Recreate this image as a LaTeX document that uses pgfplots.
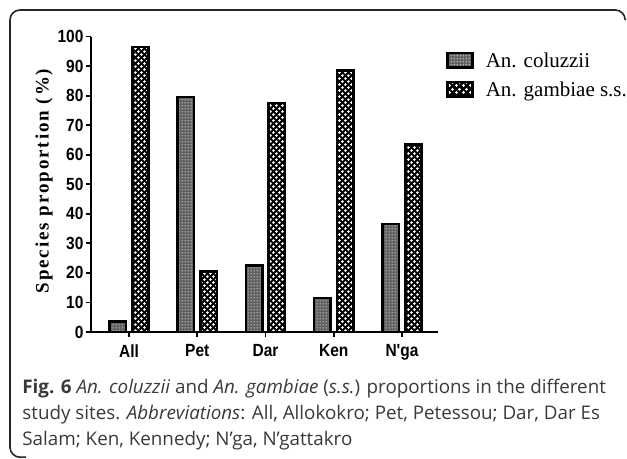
\documentclass[border=0pt]{standalone}
\usepackage{fontspec}
\usepackage{pgfplots}
\pgfplotsset{compat=1.18}
\usetikzlibrary{patterns.meta}
\setmainfont{Open Sans}
\newfontfamily\tickfont[FakeStretch=0.88]{Liberation Sans}
\newfontfamily\labfont[LetterSpace=10]{Liberation Serif}
\newfontfamily\legfont{Liberation Serif}
\definecolor{captxt}{HTML}{3A3A3A}

\pgfdeclarepattern{
  name=checker, type=uncolored,
  bottom left={\pgfpoint{0pt}{0pt}},
  top right={\pgfpoint{3.2pt}{3.2pt}},
  tile size={\pgfpoint{3.2pt}{3.2pt}},
  code={
    \pgfpathcircle{\pgfpoint{0.8pt}{0.8pt}}{0.8pt}
    \pgfpathcircle{\pgfpoint{2.4pt}{2.4pt}}{0.8pt}
    \pgfusepath{fill}
  }
}
\pgfdeclarepattern{
  name=finedots, type=uncolored,
  bottom left={\pgfpoint{0pt}{0pt}},
  top right={\pgfpoint{1.3pt}{1.3pt}},
  tile size={\pgfpoint{1.3pt}{1.3pt}},
  code={
    \pgfpathcircle{\pgfpoint{0.65pt}{0.65pt}}{0.38pt}
    \pgfusepath{fill}
  }
}

\pgfplotstableread{
x col gam
0 3.5 96.5
1 79.5 20.5
2 22.5 77.5
3 11.5 88.5
4 36.5 63.5
}\sites

\begin{document}
\begin{tikzpicture}
\useasboundingbox (0,0) rectangle (313.5pt,229.5pt);
\fill[white] (0,0) rectangle (313.5pt,229.5pt);
\draw[line width=0.8pt, black!85, rounded corners=5pt]
  (312.6pt,220pt) -- (312.6pt,224.5pt) -- (5pt,224.5pt) -- (5pt,0.9pt) -- (13pt,0.9pt);
\begin{axis}[
  at={(45.5pt,63.5pt)}, anchor=south west,
  scale only axis, width=173.5pt, height=147.7pt,
  axis lines=left, axis line style={line width=0.9pt, -},
  xmin=-0.557, xmax=4.527, ymin=0, ymax=100,
  ytick={0,10,...,100},
  xtick=data, xticklabels={All,Pet,Dar,Ken,N'ga},
  tick align=outside, major tick length=2.6pt,
  tick style={line width=0.9pt, black},
  /pgf/number format/assume math mode=true,
  ticklabel style={font=\tickfont\bfseries\fontsize{8.8}{10}\selectfont},
  yticklabel style={inner xsep=1pt},
  ylabel={\labfont\bfseries Species proportion (\%)},
  ylabel style={at={(axis description cs:-0.135,0.511)}, anchor=center, font=\fontsize{9.5}{10}\selectfont},
  ybar=3.2pt, bar width=8.2pt,
  legend style={draw=none, fill=none, at={(axis description cs:1.023,0.95)}, anchor=north west,
    inner sep=0pt, row sep=6pt, font=\legfont\fontsize{10.5}{11}\selectfont,
    nodes={inner sep=0pt, text depth=0pt}},
  legend cell align=left,
  legend image code/.code={\draw[#1, line width=1.3pt] (0.6pt,-3.6pt) rectangle (13pt,3.6pt);},
  every axis legend/.append style={column sep=6pt},
]
\addplot[draw=black, line width=1.3pt, fill=black!62,
  postaction={pattern={finedots}, pattern color=white!85!black}] table[x=x, y=col] {\sites};
\addlegendentry{An. coluzzii}
\addplot[draw=black, line width=1.3pt, fill=black,
  postaction={pattern={checker}, pattern color=white}] table[x=x, y=gam] {\sites};
\addlegendentry{An. gambiae s.s.}
\end{axis}
\begin{scope}[font=\fontsize{9.4}{12}\selectfont, color=captxt]
\node[anchor=base west, inner sep=0pt] at (11pt,32.5pt) {\textbf{Fig. 6} \textit{An. coluzzii} and \textit{An. gambiae} (\textit{s.s.}) proportions in the different};
\node[anchor=base west, inner sep=0pt] at (11pt,19.7pt) {study sites. \textit{Abbreviations}: All, Allokokro; Pet, Petessou; Dar, Dar Es};
\node[anchor=base west, inner sep=0pt] at (11pt,6.9pt) {Salam; Ken, Kennedy; N’ga, N’gattakro};
\end{scope}
\end{tikzpicture}
\end{document}
